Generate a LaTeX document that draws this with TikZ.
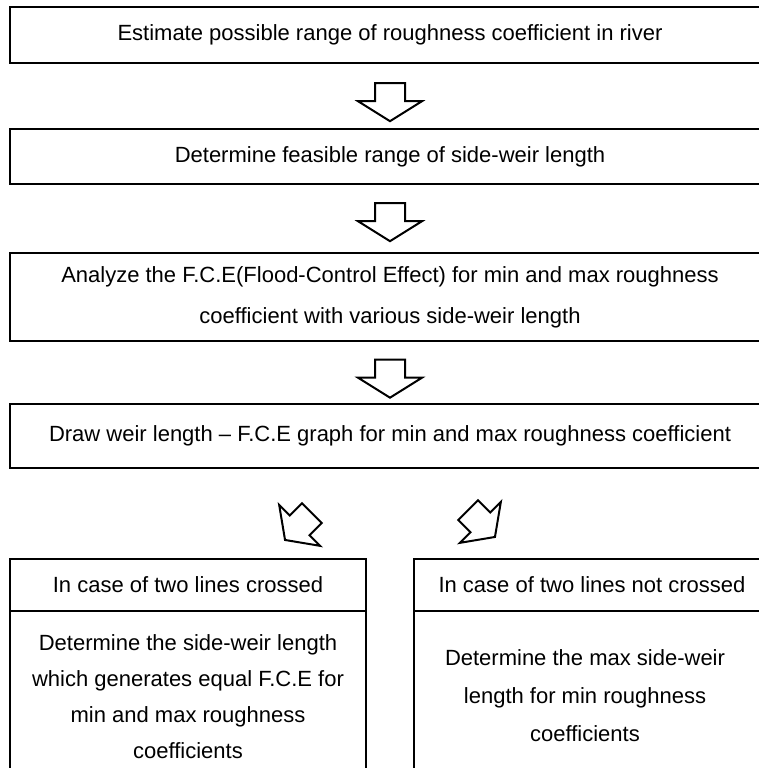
\documentclass[tikz,border=0pt]{standalone}
\usepackage{fontspec}
\setmainfont{Liberation Sans}
\usetikzlibrary{shapes.arrows}

\tikzset{
  stepbox/.style={draw, line width=2pt, inner sep=0pt, align=center, font=\fontsize{22}{41}\selectfont},
  blockarrow/.style={draw, line width=2pt, single arrow, inner ysep=0pt, shape border rotate=270},
  downarrow/.style={blockarrow, inner xsep=14pt, single arrow head extend=17pt, single arrow tip angle=116,
    minimum height=38pt},
  sidearrow/.style={blockarrow, inner xsep=13pt, single arrow head extend=15pt, single arrow tip angle=109,
    minimum height=38pt, rotate=#1}
}

\begin{document}
\begin{tikzpicture}[x=1pt,y=1pt,yscale=-1,xscale=1]
\useasboundingbox (0,0) rectangle (759,768);
\clip (0,0) rectangle (759,768);

%Shape: Rectangle [estimate]
\node [stepbox, minimum width=760pt, minimum height=56pt] (estimate) at (390,35) {Estimate possible range of roughness coefficient in river};
%Shape: Rectangle [feasible]
\node [stepbox, minimum width=760pt, minimum height=55pt] (feasible) at (390,156.5) {Determine feasible range of side-weir length};
%Shape: Rectangle [analyze]
\node [stepbox, minimum width=760pt, minimum height=88pt] (analyze) at (390,297) {Analyze the F.C.E(Flood-Control Effect) for min and max roughness\\coefficient with various side-weir length};
%Shape: Rectangle [graph]
\node [stepbox, minimum width=760pt, minimum height=64pt] (graph) at (390,436) {Draw weir length -- F.C.E graph for min and max roughness coefficient};

%Shape: Block Arrows
\node [downarrow] (arrA) at (390,97.5) {};
\node [downarrow] (arrB) at (390,217.5) {};
\node [downarrow] (arrC) at (390,374) {};
\node [sidearrow=-45] (arrL) at (302,523) {};
\node [sidearrow=45] (arrR) at (478,520) {};

%Shape: Rectangle [crossed]
\node [stepbox, minimum width=356pt, minimum height=52pt] (crossHead) at (188,585) {In case of two lines crossed};
\node [stepbox, minimum width=356pt, minimum height=180pt] (crossBody) at (188,701) {};
% Text Node
\node [align=center, font=\fontsize{22}{36}\selectfont] (crossText) at (188,697) {Determine the side-weir length\\which generates equal F.C.E for\\min and max roughness\\coefficients};

%Shape: Rectangle [not crossed]
\node [stepbox, minimum width=356pt, minimum height=52pt] (notHead) at (592,585) {In case of two lines not crossed};
\node [stepbox, minimum width=356pt, minimum height=180pt] (notBody) at (592,701) {};
% Text Node
\node [align=center, font=\fontsize{22}{38}\selectfont] (notText) at (585,696) {Determine the max side-weir\\length for min roughness\\coefficients};

\end{tikzpicture}
\end{document}
